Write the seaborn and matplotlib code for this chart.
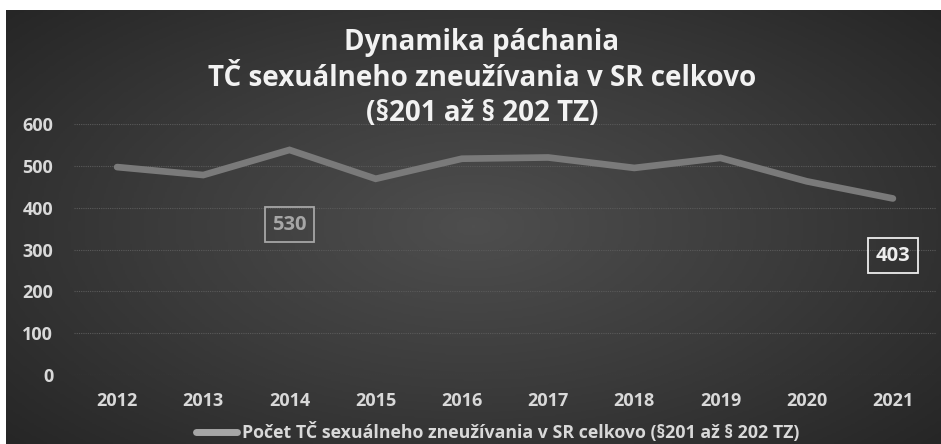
import numpy as np
import pandas as pd
import matplotlib
matplotlib.use("Agg")
import matplotlib.pyplot as plt
import seaborn as sns
from matplotlib.colors import LinearSegmentedColormap

years = ["2012", "2013", "2014", "2015", "2016", "2017", "2018", "2019", "2020", "2021"]
counts = [497, 478, 538, 469, 517, 520, 495, 519, 463, 422]
label_texts = ["530", "403"]
label_years = ["2014", "2021"]
label_y = [359, 285]
yticks = [0, 100, 200, 300, 400, 500, 600]
title = "Dynamika páchania\nTČ sexuálneho zneužívania v SR celkovo\n(§201 až § 202 TZ)"
series_name = "Počet TČ sexuálneho zneužívania v SR celkovo (§201 až § 202 TZ)"

df = pd.DataFrame({"rok": years, "pocet": counts})

sns.set_theme(style="dark")
plt.rcParams["font.family"] = ["Open Sans", "DejaVu Sans"]

W, H = 941, 444
fig = plt.figure(figsize=(W / 100, H / 100), dpi=100)
fig.patch.set_facecolor("white")

# background panel with radial gradient
bx0, by0 = 6 / W, 0
bw, bh = 1 - bx0, (H - 10) / H
bg = fig.add_axes([bx0, by0, bw, bh])
ny, nx = 200, 400
xx, yy = np.meshgrid(np.linspace(-1, 1, nx), np.linspace(-1, 1, ny))
r = np.sqrt(xx ** 2 + (yy * 0.9) ** 2)
cmap = LinearSegmentedColormap.from_list("bg", ["#4e4e4e", "#3b3b3b", "#262626"])
bg.imshow(np.clip(r / 1.35, 0, 1), cmap=cmap, aspect="auto", extent=[0, 1, 0, 1], vmin=0, vmax=1)
bg.set_axis_off()

# main axes
x0 = 74 / W
x1 = 936 / W
y_bot = 1 - 375 / H
y_top = 1 - 124 / H
ax = fig.add_axes([x0, y_bot, x1 - x0, y_top - y_bot])
ax.patch.set_alpha(0)

sns.lineplot(data=df, x="rok", y="pocet", ax=ax, color="#7a7a7a", linewidth=4.8,
             solid_capstyle="round", solid_joinstyle="miter", label=series_name, legend=False)

ax.set_ylim(0, 600)
ax.set_xlim(-0.5, len(years) - 0.5)
ax.set_yticks(yticks)
ax.set_yticklabels([str(v) for v in yticks])
for v in yticks:
    ax.axhline(v, color="#5a5a5a", linewidth=0.8, linestyle=(0, (1, 1)), zorder=0)
ax.grid(False)
for s in ax.spines.values():
    s.set_visible(False)
ax.tick_params(axis="both", length=0, colors="#d9d9d9", labelsize=13)
ax.tick_params(axis="y", pad=15)
ax.tick_params(axis="x", pad=12)
for t in ax.get_xticklabels() + ax.get_yticklabels():
    t.set_fontweight("bold")
    t.set_color("#d9d9d9")
ax.set_xlabel("")
ax.set_ylabel("")

# data labels
styles = [("#a6a6a6", "#a6a6a6"), ("#eeeeee", "#eeeeee")]
for txt, yr, yv, (tc, ec) in zip(label_texts, label_years, label_y, styles):
    xi = years.index(yr)
    ax.text(xi, yv, txt, ha="center", va="center", fontsize=14.5, fontweight="bold", color=tc,
            bbox=dict(boxstyle="square,pad=0.38", facecolor="none", edgecolor=ec, linewidth=1.3))

# title
fig.text(482 / W, 1 - 78 / H, title, ha="center", va="center", fontsize=20, fontweight="bold",
         color="#f2f2f2", linespacing=1.3)

# legend
ly = 1 - 432 / H
fig.lines.append(plt.Line2D([196 / W, 237 / W], [ly, ly], transform=fig.transFigure,
                            color="#a6a6a6", linewidth=5, solid_capstyle="round"))
fig.text(242 / W, ly, series_name, ha="left", va="center", fontsize=12.8, fontweight="bold",
         color="#d9d9d9")

fig.savefig("out.png", dpi=100, facecolor=fig.get_facecolor())
